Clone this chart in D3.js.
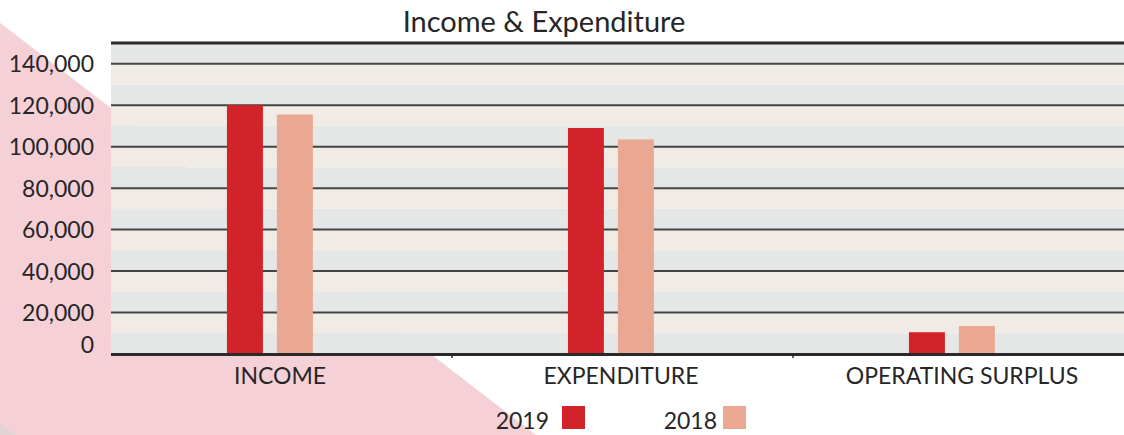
<!DOCTYPE html>
<html>
<head>
<meta charset="utf-8">
<script src="https://cdn.jsdelivr.net/npm/d3@7"></script>
<style>
  body { margin: 0; background: #fff; }
  text { font-family: Lato, "Open Sans", sans-serif; fill: #262626; }
</style>
</head>
<body>
<div id="chart"></div>
<script>
// chart data
const categories = ["INCOME", "EXPENDITURE", "OPERATING SURPLUS"];
const seriesNames = ["2019", "2018"];
const values2019 = [120000, 109000, 10500];
const values2018 = [115500, 103500, 13500];
const yTicks = [0, 20000, 40000, 60000, 80000, 100000, 120000, 140000];
const yMax = 150000;
const stripeStep = 10000;
const seriesColors = ["#d2232a", "#eaa791"];

const width = 1124, height = 435;
const plot = {left: 111, right: 1134, top: 43, bottom: 354};

const svg = d3.select("#chart")
  .append("svg")
    .attr("width", width)
    .attr("height", height);

// pink decorative triangle behind everything
svg.append("path")
  .attr("d", "M0,22.7 L0," + height + " L536," + height + " Z")
  .attr("fill", "#f6d0d7");
svg.append("path")
  .attr("d", "M0,423 L0," + height + " L16," + height + " Z")
  .attr("fill", "#e3d3d6");

// scales
const y = d3.scaleLinear()
  .domain([0, yMax])
  .range([plot.bottom, plot.top]);

const x0 = d3.scaleBand()
  .domain(categories)
  .range([plot.left, plot.right]);

const bw = x0.bandwidth();
const x1 = d3.scaleBand()
  .domain(seriesNames)
  .range([bw * 0.34, bw * 0.592])
  .paddingInner(0.28);

const color = d3.scaleOrdinal()
  .domain(seriesNames)
  .range(seriesColors);

// alternating background stripes
const stripes = d3.range(0, yMax, stripeStep);
svg.append("g")
  .selectAll("rect")
  .data(stripes)
  .enter()
  .append("rect")
    .attr("x", plot.left)
    .attr("width", width - plot.left)
    .attr("y", d => y(d + stripeStep))
    .attr("height", d => y(d) - y(d + stripeStep))
    .attr("fill", (d, i) => i % 2 === 0 ? "#e5e6e6" : "#f0ece5");

// gridlines
svg.append("g")
  .selectAll("line")
  .data(yTicks.filter(d => d > 0))
  .enter()
  .append("line")
    .attr("x1", plot.left)
    .attr("x2", width)
    .attr("y1", d => y(d))
    .attr("y2", d => y(d))
    .attr("stroke", "#444")
    .attr("stroke-width", 2);

// top border
svg.append("line")
  .attr("x1", plot.left).attr("x2", width)
  .attr("y1", y(yMax)).attr("y2", y(yMax))
  .attr("stroke", "#2a2a2a")
  .attr("stroke-width", 3);

// bars
const rows = categories.map((c, i) => ({cat: c, values: [values2019[i], values2018[i]]}));

svg.append("g")
  .selectAll("g")
  .data(rows)
  .enter()
  .append("g")
    .attr("transform", d => "translate(" + x0(d.cat) + ",0)")
  .selectAll("rect")
  .data(d => seriesNames.map((s, j) => ({key: s, value: d.values[j]})))
  .enter()
  .append("rect")
    .attr("x", d => x1(d.key))
    .attr("width", x1.bandwidth())
    .attr("y", d => y(d.value))
    .attr("height", d => y(0) - y(d.value))
    .attr("fill", d => color(d.key));

// x axis baseline
svg.append("line")
  .attr("x1", plot.left).attr("x2", width)
  .attr("y1", y(0) + 0.5).attr("y2", y(0) + 0.5)
  .attr("stroke", "#2a2a2a")
  .attr("stroke-width", 3);

// small ticks between categories
svg.append("g")
  .selectAll("line")
  .data(categories.slice(1))
  .enter()
  .append("line")
    .attr("x1", d => x0(d)).attr("x2", d => x0(d))
    .attr("y1", y(0)).attr("y2", y(0) + 4)
    .attr("stroke", "#2a2a2a")
    .attr("stroke-width", 1.5);

// y axis labels
const yAxis = svg.append("g")
  .attr("transform", "translate(" + plot.left + ",0)")
  .call(d3.axisLeft(y).tickValues(yTicks).tickFormat(d3.format(",")).tickSize(0).tickPadding(17));
yAxis.select(".domain").remove();
yAxis.selectAll("text")
  .attr("font-size", 23)
  .attr("font-family", "Lato, sans-serif")
  .attr("fill", "#262626")
  .attr("dy", d => d === 0 ? "-0.05em" : "0.35em");

// category labels
const xAxis = svg.append("g")
  .attr("transform", "translate(0," + y(0) + ")")
  .call(d3.axisBottom(x0).tickSize(0).tickPadding(14));
xAxis.select(".domain").remove();
xAxis.selectAll("text")
  .attr("font-size", 23)
  .attr("font-family", "Lato, sans-serif")
  .attr("fill", "#262626")
  .attr("dx", -1.5);

// title
svg.append("text")
  .attr("x", 544)
  .attr("y", 32)
  .attr("text-anchor", "middle")
  .attr("font-size", 29)
  .text("Income & Expenditure");

// legend
const legendX = d3.scalePoint()
  .domain(seriesNames)
  .range([562, 723]);

const legend = svg.append("g")
  .selectAll("g")
  .data(seriesNames)
  .enter()
  .append("g")
    .attr("transform", d => "translate(" + legendX(d) + ",406)");

legend.append("rect")
  .attr("width", 23)
  .attr("height", 23)
  .attr("fill", d => color(d));

legend.append("text")
  .attr("x", (d, i) => i === 0 ? -13 : -6)
  .attr("y", 23)
  .attr("text-anchor", "end")
  .attr("font-size", 23)
  .text(d => d);
</script>
</body>
</html>
